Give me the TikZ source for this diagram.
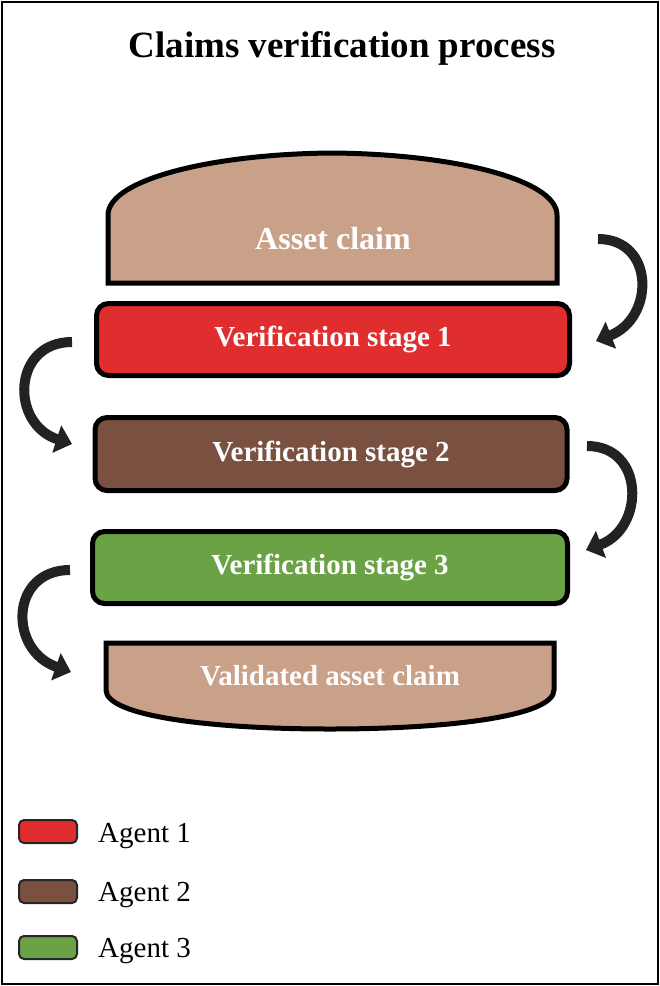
\documentclass[tikz,border=0pt]{standalone}
\usepackage{fontspec}
\setmainfont{Liberation Serif}
\usetikzlibrary{arrows.meta}
\definecolor{buncol}{HTML}{C9A088}
\definecolor{redcol}{HTML}{E02E2E}
\definecolor{browncol}{HTML}{7A5140}
\definecolor{greencol}{HTML}{6AA245}
\definecolor{arrowcol}{HTML}{222222}
\tikzset{
  stagebox/.style={draw=black, line width=5pt, rounded corners=12pt, text=white,
    font=\bfseries\fontsize{29}{32}\selectfont, inner sep=0pt},
  buntext/.style={text=white, font=\bfseries\fontsize{29}{32}\selectfont, inner sep=0pt},
  bunshape/.style={draw=black, line width=5pt, fill=buncol},
  legbox/.style={draw=black!85, line width=2pt, rounded corners=5pt, minimum width=58pt, minimum height=23pt, inner sep=0pt},
  legtext/.style={font=\fontsize{29}{32}\selectfont, inner sep=0pt, anchor=base west},
  flowarrow/.style={draw=arrowcol, line width=10pt, -{Triangle[length=16pt,width=28pt]}},
}
\begin{document}
\begin{tikzpicture}[x=1pt,y=-1pt]
\useasboundingbox (0,0) rectangle (660,986);
\draw[line width=2.5pt] (2,2) rectangle (658,984);

\node[font=\bfseries\fontsize{37}{40}\selectfont, anchor=base, inner sep=0pt] (title) at (342,57) {Claims verification process};

% top bun
\draw[bunshape] (108,283) -- (108,215) .. controls (108,180) and (210,154) .. (332,153)
  .. controls (455,154) and (557,180) .. (557,215) -- (557,283) -- cycle;
\node[buntext, font=\bfseries\fontsize{32}{34}\selectfont, anchor=base] (bun) at (333,249) {Asset claim};

% stages
\node[stagebox, fill=redcol, minimum width=473pt, minimum height=72pt] (s1) at (333,339.5) {Verification stage 1};
\node[stagebox, fill=browncol, minimum width=472pt, minimum height=73pt] (s2) at (331,454) {Verification stage 2};
\node[stagebox, fill=greencol, minimum width=475pt, minimum height=72pt] (s3) at (330,567.5) {Verification stage 3};

% bottom bun
\draw[bunshape] (106,643) -- (554,643) -- (554,690) .. controls (554,716) and (450,729) .. (330,729)
  .. controls (210,729) and (106,716) .. (106,690) -- cycle;
\node[buntext, anchor=base] (vbun) at (330,685) {Validated asset claim};

% arrow end points
\coordinate (a1s) at (598,239);
\coordinate (a1e) at (596,341);
\coordinate (a2s) at (72,342);
\coordinate (a2e) at (72,444);
\coordinate (a3s) at (587,446);
\coordinate (a3e) at (586,550);
\coordinate (a4s) at (70,570);
\coordinate (a4e) at (71,672);

\draw[flowarrow] (a1s) .. controls (655,239) and (655,318) .. (a1e);
\draw[flowarrow] (a2s) .. controls (12,342) and (10,424) .. (a2e);
\draw[flowarrow] (a3s) .. controls (645,446) and (645,528) .. (a3e);
\draw[flowarrow] (a4s) .. controls (10,570) and (8,650) .. (a4e);

% legend
\node[legbox, fill=redcol] (l1) at (48,831.5) {};
\node[legbox, fill=browncol] (l2) at (48,891.5) {};
\node[legbox, fill=greencol] (l3) at (48,947.5) {};
\node[legtext] (t1) at (98,842) {Agent 1};
\node[legtext] (t2) at (98,901.5) {Agent 2};
\node[legtext] (t3) at (98,957) {Agent 3};
\end{tikzpicture}
\end{document}
